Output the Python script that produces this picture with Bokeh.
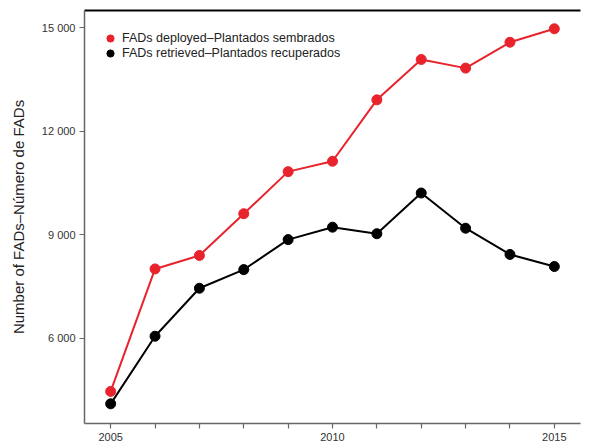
from bokeh.plotting import figure
from bokeh.models import FixedTicker, LinearAxis, Range1d, Legend, LegendItem
from bokeh.embed import file_html
from bokeh.resources import INLINE

years = [2005, 2006, 2007, 2008, 2009, 2010, 2011, 2012, 2013, 2014, 2015]
deployed = [4460, 8010, 8400, 9610, 10830, 11130, 12910, 14080, 13830, 14580, 14970]
retrieved = [4100, 6060, 7450, 7990, 8860, 9220, 9030, 10210, 9190, 8430, 8080]
y_ticks = [6000, 9000, 12000, 15000]
y_tick_labels = ["6 000", "9 000", "12 000", "15 000"]
x_labelled = {2005: "2005", 2010: "2010", 2015: "2015"}
label_deployed = "FADs deployed\u2013Plantados sembrados"
label_retrieved = "FADs retrieved\u2013Plantados recuperados"
y_title = "Number of FADs\u2013N\u00famero de FADs"

RED = "#e8232b"
FONT = "Liberation Sans"

p = figure(width=600, height=444, output_backend="svg", toolbar_location=None,
           x_range=Range1d(2004.41, 2015.59), y_range=Range1d(3530, 15500),
           min_border_left=84, min_border_right=20, min_border_top=10, min_border_bottom=21)
p.outline_line_color = None
p.grid.visible = False
p.background_fill_color = "white"
p.border_fill_color = "white"

l1 = p.line(years, deployed, line_color=RED, line_width=2)
s1 = p.scatter(years, deployed, size=10, fill_color=RED, line_color=RED)
l2 = p.line(years, retrieved, line_color="black", line_width=2)
s2 = p.scatter(years, retrieved, size=10, fill_color="black", line_color="black")

# axes
xa = p.xaxis[0]
xa.ticker = FixedTicker(ticks=years)
xa.major_label_overrides = {y: x_labelled.get(y, "") for y in years}
ya = p.yaxis[0]
ya.ticker = FixedTicker(ticks=y_ticks)
ya.major_label_overrides = dict(zip(y_ticks, y_tick_labels))
ya.axis_label = y_title
ya.axis_label_text_font = FONT
ya.axis_label_text_font_size = "15px"
ya.axis_label_text_font_style = "normal"
ya.axis_label_text_color = "#222222"
ya.axis_label_standoff = 12
for ax in (xa, ya):
    ax.minor_tick_line_color = None
    ax.major_tick_out = 5
    ax.major_tick_in = 0
    ax.axis_line_color = "#666666"
    ax.axis_line_width = 1.5
    ax.major_tick_line_color = "#666666"
    ax.major_tick_line_width = 1.2
    ax.major_label_text_font = FONT
    ax.major_label_text_font_size = "11px"
    ax.major_label_text_color = "#333333"
    ax.major_label_standoff = 4

top = LinearAxis(ticker=FixedTicker(ticks=[]), major_label_text_font_size="0px",
                 axis_line_color="black", axis_line_width=2,
                 major_tick_line_color=None, minor_tick_line_color=None)
p.add_layout(top, "above")

legend_style = dict(margin=0, padding=0, spacing=0,
                    glyph_width=18, glyph_height=18, label_height=12, label_standoff=3,
                    label_text_font=FONT, label_text_font_size="12.5px",
                    label_text_color="#222222",
                    border_line_color=None, background_fill_alpha=0)
leg1 = Legend(items=[LegendItem(label=label_deployed, renderers=[s1])],
              location=(17, 376), **legend_style)
leg2 = Legend(items=[LegendItem(label=label_retrieved, renderers=[s2])],
              location=(17, 361), **legend_style)
p.add_layout(leg1, "center")
p.add_layout(leg2, "center")

open("out.html", "w").write(file_html(p, INLINE))
